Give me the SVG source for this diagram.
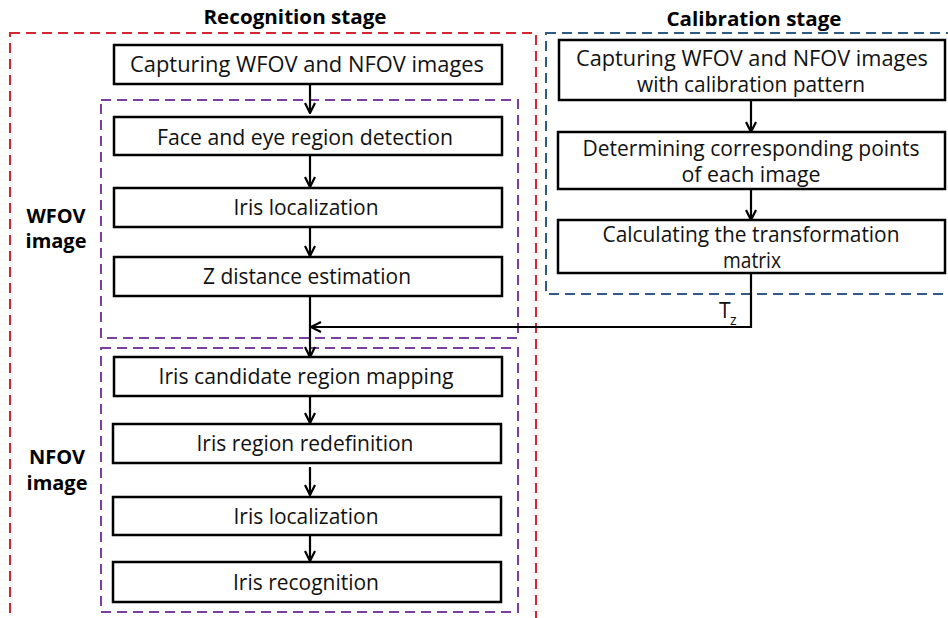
<svg xmlns="http://www.w3.org/2000/svg" width="948" height="618" viewBox="0 0 948 618">
<style>
.bg{fill:#ffffff}
.box{fill:#ffffff;stroke:#000;stroke-width:2.5}
.t{font-family:"Open Sans","Noto Sans",sans-serif;font-size:21px;fill:#111;text-anchor:middle}
.b{font-family:"Open Sans","Noto Sans",sans-serif;font-size:20px;font-weight:bold;fill:#000;text-anchor:middle}
.red{fill:none;stroke:#d22730;stroke-width:2;stroke-dasharray:10 6}
.pur{fill:none;stroke:#7b3fa0;stroke-width:2;stroke-dasharray:10 6}
.blu{fill:none;stroke:#2f5a85;stroke-width:2;stroke-dasharray:10 6}
.c{fill:none;stroke:#000;stroke-width:2.2}
</style>
<defs>
<marker id="ah" viewBox="0 0 12 12" refX="11" refY="6" markerWidth="12" markerHeight="12" markerUnits="userSpaceOnUse" orient="auto">
<polyline points="1,1 11,6 1,11" fill="none" stroke="#000" stroke-width="2.2"/>
</marker>
</defs>
<rect class="bg" x="0" y="0" width="948" height="618"/>
<g id="stage-frames">
<rect id="recognition-frame" class="red" x="10" y="33" width="526" height="620"/>
<rect id="calibration-frame" class="blu" x="546" y="33" width="420" height="261"/>
<rect id="wfov-frame" class="pur" x="101" y="100" width="417" height="238"/>
<rect id="nfov-frame" class="pur" x="101" y="348" width="417" height="264"/>
</g>
<g id="titles">
<text class="b" x="295" y="24" textLength="183" lengthAdjust="spacingAndGlyphs">Recognition stage</text>
<text class="b" x="754" y="26" textLength="175" lengthAdjust="spacingAndGlyphs">Calibration stage</text>
<text class="b" x="56" y="223">WFOV</text>
<text class="b" x="56" y="248">image</text>
<text class="b" x="57" y="464">NFOV</text>
<text class="b" x="57" y="490">image</text>
</g>
<g id="connectors">
<line class="c" x1="310" y1="84" x2="310" y2="113" marker-end="url(#ah)"/>
<line class="c" x1="310" y1="155" x2="310" y2="187" marker-end="url(#ah)"/>
<line class="c" x1="310" y1="227" x2="310" y2="256" marker-end="url(#ah)"/>
<line class="c" x1="310" y1="296" x2="310" y2="357" marker-end="url(#ah)"/>
<line class="c" x1="310" y1="396" x2="310" y2="423" marker-end="url(#ah)"/>
<line class="c" x1="310" y1="467" x2="310" y2="495" marker-end="url(#ah)"/>
<line class="c" x1="310" y1="535" x2="310" y2="561" marker-end="url(#ah)"/>
<line class="c" x1="751" y1="100" x2="751" y2="132" marker-end="url(#ah)"/>
<line class="c" x1="751" y1="189" x2="751" y2="220" marker-end="url(#ah)"/>
<polyline class="c" points="751,273 751,327 311,327" marker-end="url(#ah)"/>
<text x="719" y="318" font-family="Open Sans, Noto Sans, sans-serif" font-size="21" fill="#111">T</text>
<text x="730" y="325" font-family="Open Sans, Noto Sans, sans-serif" font-size="14" fill="#111">z</text>
</g>
<g id="n1"><rect class="box" x="114" y="45" width="388" height="39"/><text class="t" x="307" y="72" textLength="354" lengthAdjust="spacingAndGlyphs">Capturing WFOV and NFOV images</text></g>
<g id="n2"><rect class="box" x="114" y="117" width="388" height="38"/><text class="t" x="305" y="145" textLength="296" lengthAdjust="spacingAndGlyphs">Face and eye region detection</text></g>
<g id="n3"><rect class="box" x="114" y="188" width="388" height="39"/><text class="t" x="306" y="215" textLength="145" lengthAdjust="spacingAndGlyphs">Iris localization</text></g>
<g id="n4"><rect class="box" x="114" y="257" width="388" height="39"/><text class="t" x="307" y="284" textLength="208" lengthAdjust="spacingAndGlyphs">Z distance estimation</text></g>
<g id="n5"><rect class="box" x="114" y="357" width="388" height="39"/><text class="t" x="306" y="384" textLength="295" lengthAdjust="spacingAndGlyphs">Iris candidate region mapping</text></g>
<g id="n6"><rect class="box" x="113" y="424" width="388" height="39"/><text class="t" x="305" y="451" textLength="217" lengthAdjust="spacingAndGlyphs">Iris region redefinition</text></g>
<g id="n7"><rect class="box" x="113" y="497" width="388" height="38"/><text class="t" x="306" y="524" textLength="145" lengthAdjust="spacingAndGlyphs">Iris localization</text></g>
<g id="n8"><rect class="box" x="113" y="562" width="388" height="40"/><text class="t" x="306" y="590" textLength="146" lengthAdjust="spacingAndGlyphs">Iris recognition</text></g>
<g id="c1"><rect class="box" x="559" y="40" width="386" height="60"/><text class="t" x="752" y="66" textLength="352" lengthAdjust="spacingAndGlyphs">Capturing WFOV and NFOV images</text><text class="t" x="751" y="92" textLength="228" lengthAdjust="spacingAndGlyphs">with calibration pattern</text></g>
<g id="c2"><rect class="box" x="558" y="132" width="387" height="57"/><text class="t" x="751" y="156" textLength="337" lengthAdjust="spacingAndGlyphs">Determining corresponding points</text><text class="t" x="751" y="182" textLength="139" lengthAdjust="spacingAndGlyphs">of each image</text></g>
<g id="c3"><rect class="box" x="558" y="220" width="387" height="53"/><text class="t" x="751" y="242" textLength="297" lengthAdjust="spacingAndGlyphs">Calculating the transformation</text><text class="t" x="752" y="268" textLength="58" lengthAdjust="spacingAndGlyphs">matrix</text></g>
</svg>
